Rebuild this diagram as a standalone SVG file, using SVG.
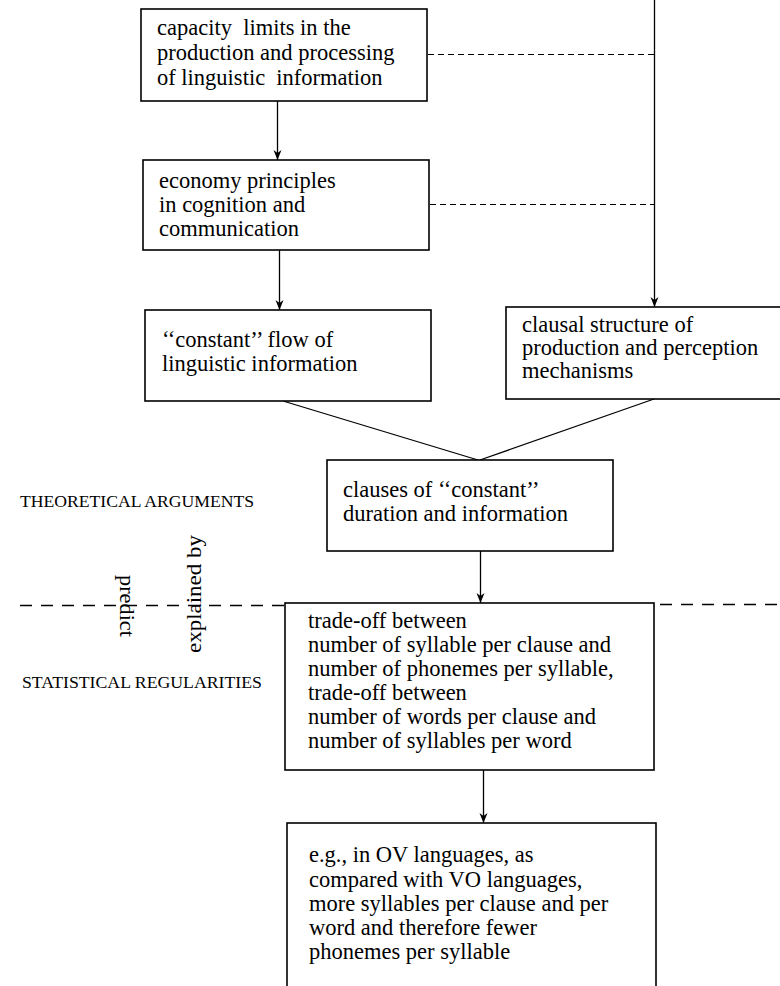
<svg xmlns="http://www.w3.org/2000/svg" width="780" height="986" viewBox="0 0 780 986">
<style>
  .box { fill: #ffffff; stroke: #000000; stroke-width: 1.6; }
  .t { font-family: "Liberation Serif", "Times New Roman", serif; font-size: 22.5px; fill: #000000; white-space: pre; }
  .cap { font-family: "Liberation Serif", "Times New Roman", serif; font-size: 16px; fill: #000000; }
  .rot { font-family: "Liberation Serif", "Times New Roman", serif; font-size: 22px; fill: #000000; }
  .ln { stroke: #000000; stroke-width: 1.3; fill: none; }
  .arr { stroke: #000000; stroke-width: 1.3; fill: none; marker-end: url(#ah); }
  .dash { stroke: #000000; stroke-width: 1.2; fill: none; stroke-dasharray: 6 4; }
  .ldash { stroke: #000000; stroke-width: 1.3; fill: none; stroke-dasharray: 12 9; }
</style>
<defs>
  <marker id="ah" viewBox="0 0 10 20" refX="10" refY="10" markerWidth="10" markerHeight="20" orient="auto" markerUnits="userSpaceOnUse">
    <path d="M0,6 L10,10 L0,14 L3,10 Z" fill="#000000"/>
  </marker>
</defs>
<rect x="0" y="0" width="780" height="986" fill="#ffffff"/>

<g id="connectors">
  <line class="arr" x1="654.5" y1="0" x2="654.5" y2="307"/>
  <line class="dash" x1="428" y1="54.5" x2="654" y2="54.5"/>
  <line class="dash" x1="430" y1="204.5" x2="654" y2="204.5"/>
  <line class="arr" x1="277.5" y1="101" x2="277.5" y2="160"/>
  <line class="arr" x1="279.5" y1="250" x2="279.5" y2="310"/>
  <line class="ln" x1="283" y1="401" x2="478" y2="460"/>
  <line class="ln" x1="654" y1="399" x2="480" y2="460"/>
  <line class="arr" x1="480.5" y1="551" x2="480.5" y2="603"/>
  <line class="arr" x1="483.5" y1="770" x2="483.5" y2="823"/>
  <line class="ldash" x1="20" y1="605.5" x2="285" y2="605.5"/>
  <line class="ldash" x1="660" y1="604.5" x2="780" y2="604.5"/>
</g>

<g id="labels">
  <text class="cap" x="20" y="507" textLength="234" lengthAdjust="spacingAndGlyphs">THEORETICAL ARGUMENTS</text>
  <text class="cap" x="22" y="688" textLength="240" lengthAdjust="spacingAndGlyphs">STATISTICAL REGULARITIES</text>
  <text class="rot" transform="translate(120,575) rotate(90)" textLength="62" lengthAdjust="spacingAndGlyphs">predict</text>
  <text class="rot" transform="translate(201,653) rotate(-90)" textLength="118" lengthAdjust="spacingAndGlyphs">explained by</text>
</g>

<g id="capacity">
  <rect class="box" x="141" y="9" width="286" height="92"/>
  <text class="t" x="157" y="35">capacity  limits in the</text>
  <text class="t" x="157" y="60">production and processing</text>
  <text class="t" x="157" y="85">of linguistic  information</text>
</g>

<g id="economy">
  <rect class="box" x="143" y="160" width="286" height="90"/>
  <text class="t" x="159" y="188">economy principles</text>
  <text class="t" x="159" y="212">in cognition and</text>
  <text class="t" x="159" y="236">communication</text>
</g>

<g id="constant-flow">
  <rect class="box" x="145" y="310" width="286" height="91"/>
  <text class="t" x="162" y="347">‘‘constant’’ flow of</text>
  <text class="t" x="162" y="371">linguistic information</text>
</g>

<g id="clausal-structure">
  <rect class="box" x="506" y="307" width="290" height="92"/>
  <text class="t" x="522" y="332">clausal structure of</text>
  <text class="t" x="522" y="355">production and perception</text>
  <text class="t" x="522" y="378">mechanisms</text>
</g>

<g id="clauses">
  <rect class="box" x="327" y="460" width="286" height="91"/>
  <text class="t" x="343" y="497">clauses of ‘‘constant’’</text>
  <text class="t" x="343" y="521">duration and information</text>
</g>

<g id="trade-off">
  <rect class="box" x="285" y="603" width="369" height="167"/>
  <text class="t" x="308" y="628">trade-off between</text>
  <text class="t" x="308" y="652">number of syllable per clause and</text>
  <text class="t" x="308" y="676">number of phonemes per syllable,</text>
  <text class="t" x="308" y="700">trade-off between</text>
  <text class="t" x="308" y="724">number of words per clause and</text>
  <text class="t" x="308" y="748">number of syllables per word</text>
</g>

<g id="example">
  <rect class="box" x="287" y="823" width="369" height="180"/>
  <text class="t" x="309" y="862">e.g., in OV languages, as</text>
  <text class="t" x="309" y="887">compared with VO languages,</text>
  <text class="t" x="309" y="911">more syllables per clause and per</text>
  <text class="t" x="309" y="935">word and therefore fewer</text>
  <text class="t" x="309" y="959">phonemes per syllable</text>
</g>
</svg>
